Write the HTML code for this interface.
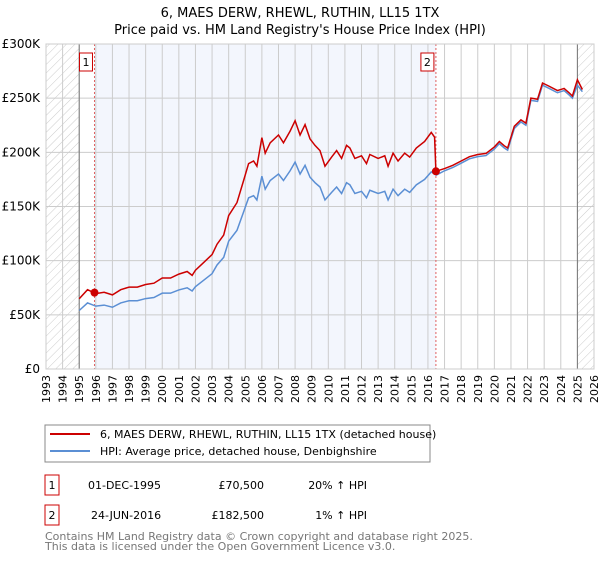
<!DOCTYPE html>
<html><head><meta charset="utf-8"><style>
body{margin:0;background:#fff;font-family:"DejaVu Sans","Liberation Sans",sans-serif;}
svg text{font-family:"DejaVu Sans","Liberation Sans",sans-serif;}
</style></head><body>
<svg id="c" width="600" height="560" viewBox="0 0 600 560">
<defs><pattern id="hatch" width="6" height="6" patternUnits="userSpaceOnUse" patternTransform="rotate(45)"><line x1="0" y1="0" x2="0" y2="6" stroke="#ccc" stroke-width="1"/></pattern></defs>
<text x="300" y="17" text-anchor="middle" font-size="13">6, MAES DERW, RHEWL, RUTHIN, LL15 1TX</text>
<text x="300" y="34" text-anchor="middle" font-size="13">Price paid vs. HM Land Registry's House Price Index (HPI)</text>
<g id="plot"></g>
<rect x="45" y="425" width="385" height="37" fill="#fff" stroke="#888"/>
<line x1="50" y1="434" x2="90" y2="434" stroke="#cc0000" stroke-width="2"/>
<text x="100" y="438" font-size="11">6, MAES DERW, RHEWL, RUTHIN, LL15 1TX (detached house)</text>
<line x1="50" y1="451" x2="90" y2="451" stroke="#5b8fd4" stroke-width="2"/>
<text x="100" y="455" font-size="11">HPI: Average price, detached house, Denbighshire</text>
<g font-size="11">
<rect x="45" y="475" width="14" height="20" fill="#fff" stroke="#cc0000"/>
<text x="52" y="489" text-anchor="middle">1</text>
<text x="88" y="489">01-DEC-1995</text><text x="264" y="489" text-anchor="end">£70,500</text><text x="367" y="489" text-anchor="end">20% ↑ HPI</text>
<rect x="45" y="505" width="14" height="20" fill="#fff" stroke="#cc0000"/>
<text x="52" y="519" text-anchor="middle">2</text>
<text x="91" y="519">24-JUN-2016</text><text x="264" y="519" text-anchor="end">£182,500</text><text x="367" y="519" text-anchor="end">1% ↑ HPI</text>
</g>
<text x="45" y="540" font-size="11" fill="#777">Contains HM Land Registry data © Crown copyright and database right 2025.</text>
<text x="45" y="550" font-size="11" fill="#777">This data is licensed under the Open Government Licence v3.0.</text>
</svg>
<script>
const hpiYears=[1995.0,1995.5,1996.0,1996.5,1997.0,1997.5,1998.0,1998.5,1999.0,1999.5,2000.0,2000.5,2001.0,2001.5,2001.8,2002.0,2002.5,2003.0,2003.3,2003.7,2004.0,2004.5,2004.9,2005.2,2005.5,2005.7,2006.0,2006.2,2006.5,2007.0,2007.3,2007.7,2008.0,2008.3,2008.6,2008.9,2009.2,2009.5,2009.8,2010.2,2010.5,2010.8,2011.1,2011.3,2011.6,2012.0,2012.3,2012.5,2013.0,2013.4,2013.6,2013.9,2014.2,2014.6,2014.9,2015.3,2015.8,2016.2,2016.5,2017.0,2017.5,2018.0,2018.5,2019.0,2019.5,2020.0,2020.3,2020.6,2020.8,2021.2,2021.6,2021.9,2022.2,2022.6,2022.9,2023.3,2023.8,2024.2,2024.5,2024.7,2025.0,2025.3];
const hpiValues=[54,61,58,59,57,61,63,63,65,66,70,70,73,75,72,76,82,88,96,103,118,128,145,158,160,156,178,166,174,180,174,183,191,180,188,177,172,168,156,163,168,162,172,170,162,164,158,165,162,164,156,166,160,166,163,170,175,182,179,183,186,190,194,196,197,203,208,204,202,222,228,225,248,247,262,259,255,257,253,250,262,256];
const priceYears=[1995.0,1995.5,1996.0,1996.5,1997.0,1997.5,1998.0,1998.5,1999.0,1999.5,2000.0,2000.5,2001.0,2001.5,2001.8,2002.0,2002.5,2003.0,2003.3,2003.7,2004.0,2004.5,2004.9,2005.2,2005.5,2005.7,2006.0,2006.2,2006.5,2007.0,2007.3,2007.7,2008.0,2008.3,2008.6,2008.9,2009.2,2009.5,2009.8,2010.2,2010.5,2010.8,2011.1,2011.3,2011.6,2012.0,2012.3,2012.5,2013.0,2013.4,2013.6,2013.9,2014.2,2014.6,2014.9,2015.3,2015.8,2016.2,2016.4,2016.48,2017.0,2017.5,2018.0,2018.5,2019.0,2019.5,2020.0,2020.3,2020.6,2020.8,2021.2,2021.6,2021.9,2022.2,2022.6,2022.9,2023.3,2023.8,2024.2,2024.5,2024.7,2025.0,2025.3];
const priceValues=[64.8,73.2,69.6,70.8,68.4,73.2,75.6,75.6,78,79.2,84,84,87.6,90,86.4,91.2,98.4,105.6,115.2,123.6,141.6,153.6,174,189.6,192,187.2,213.6,199.2,208.8,216,208.8,219.6,229.2,216,225.6,212.4,206.4,201.6,187.2,195.6,201.6,194.4,206.4,204,194.4,196.8,189.6,198,194.4,196.8,187.2,199.2,192,199.2,195.6,204,210,218.4,214,182.5,185,188,192,196,198,199,205,210,206,204,224,230,227,250,249,264,261,257,259,255,252,267,258];
const saleYears=[1995.92,2016.48];
const saleValues=[70.5,182.5];
const saleLabels=["1","2"];
const yTicks=[0,50,100,150,200,250,300];
const yTickLabels=["£0","£50K","£100K","£150K","£200K","£250K","£300K"];
const xStart=1993,xEnd=2026;

const L=46,R=594,T=44,B=369;
const X=y=>L+(y-xStart)/(xEnd-xStart)*(R-L);
const Y=v=>B-v/300*(B-T);
const g=document.getElementById('plot');
const NS='http://www.w3.org/2000/svg';
function mk(t,a,p){const e=document.createElementNS(NS,t);for(const k in a)e.setAttribute(k,a[k]);(p||g).appendChild(e);return e;}
let e;
e=mk('rect',{x:L,y:T,width:R-L,height:B-T,fill:'#fff'});


e=mk('rect',{x:X(saleYears[0]),y:T,width:X(saleYears[1])-X(saleYears[0]),height:B-T,fill:'#f3f6fd'});


e=mk('rect',{x:L,y:T,width:X(1995)-L,height:B-T,fill:'url(#hatch)'});


e=mk('rect',{x:X(2025),y:T,width:R-X(2025),height:B-T,fill:'url(#hatch)'});


for(let yr=xStart;yr<=xEnd;yr++){
 e=mk('line',{x1:X(yr),x2:X(yr),y1:T,y2:B,stroke:'#ccc','stroke-width':1});
 
 
 e=mk('text',{x:0,y:0,'font-size':11,'text-anchor':'end',transform:`translate(${X(yr)+4},${B+6}) rotate(-90)`});
 e.textContent=yr;
 
 
}
yTicks.forEach((v,i)=>{
 e=mk('line',{x1:L,x2:R,y1:Y(v),y2:Y(v),stroke:'#ccc','stroke-width':1});
 
 
 e=mk('text',{x:L-6,y:Y(v)+4,'font-size':12,'text-anchor':'end'});
 e.textContent=yTickLabels[i];
 
 
});
[1995,2025].forEach(yr=>{
 e=mk('line',{x1:X(yr),x2:X(yr),y1:T,y2:B,stroke:'#777','stroke-width':1});
 
 
});
saleYears.forEach((yr,i)=>{
 e=mk('line',{x1:X(yr),x2:X(yr),y1:T,y2:B,stroke:'#e06060','stroke-width':1,'stroke-dasharray':'2,2'});
 
 
});
e=mk('polyline',{points:hpiYears.map((y,i)=>X(y)+','+Y(hpiValues[i])).join(' '),fill:'none',stroke:'#5b8fd4','stroke-width':1.5});


e=mk('polyline',{points:priceYears.map((y,i)=>X(y)+','+Y(priceValues[i])).join(' '),fill:'none',stroke:'#cc0000','stroke-width':1.5});


saleYears.forEach((yr,i)=>{
 e=mk('circle',{cx:X(yr),cy:Y(saleValues[i]),r:4,fill:'#cc0000'});
 
 
 e=mk('rect',{x:X(yr)-15,y:T+9,width:13,height:18,fill:'#fff',stroke:'#cc0000'});
 
 
 e=mk('text',{x:X(yr)-8.5,y:T+22,'font-size':11,'text-anchor':'middle'});
 e.textContent=saleLabels[i];
 
 
});
e=mk('rect',{x:L,y:T,width:R-L,height:B-T,fill:'none',stroke:'#ccc'});


</script>
</body></html>
